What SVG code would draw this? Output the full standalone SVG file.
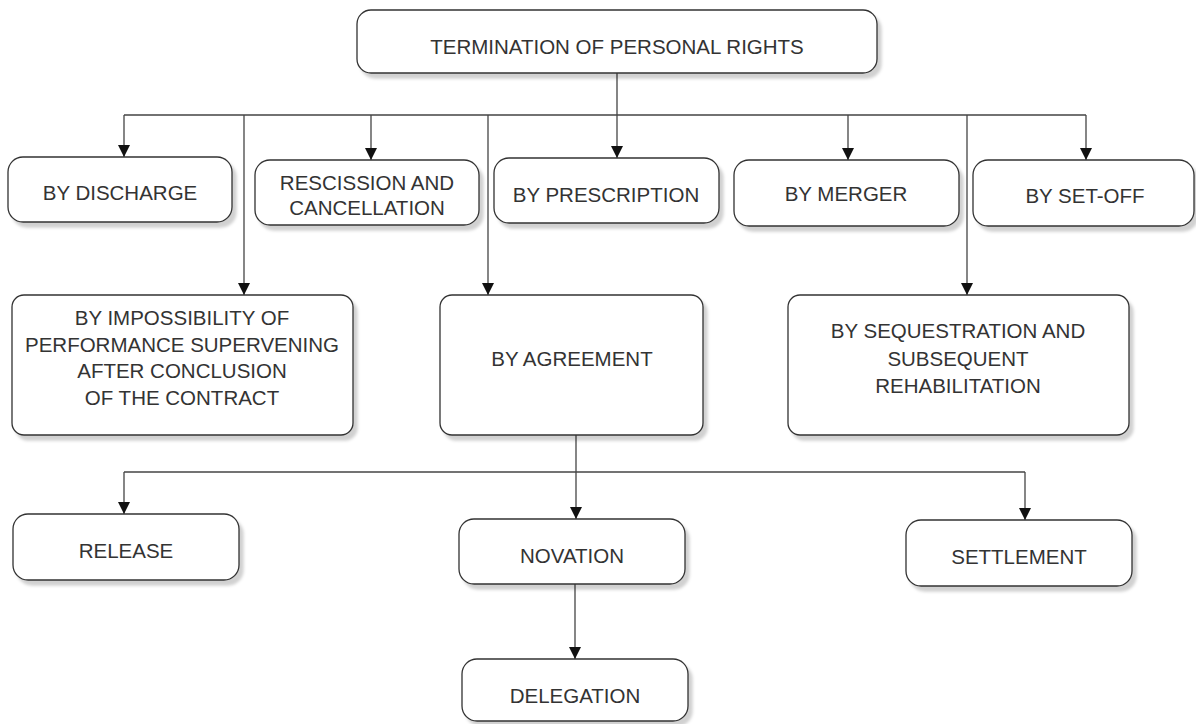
<svg xmlns="http://www.w3.org/2000/svg" width="1196" height="724" viewBox="0 0 1196 724">
<style>
.box{fill:#fff;stroke:#333;stroke-width:1.3;filter:url(#sh)}
.t{font-family:"Liberation Sans",Arial,sans-serif;font-size:20.5px;fill:#333;text-anchor:middle}
.c{fill:none;stroke:#444;stroke-width:1.3}
.a{marker-end:url(#ar)}
</style>
<defs>
<filter id="sh" x="-10%" y="-10%" width="125%" height="130%">
<feDropShadow dx="4" dy="5" stdDeviation="1.5" flood-color="#000" flood-opacity="0.18"/>
</filter>
<marker id="ar" viewBox="0 0 12 12" refX="12" refY="6" markerWidth="12" markerHeight="12" markerUnits="userSpaceOnUse" orient="auto">
<path d="M0,0 L12,6 L0,12 Z" fill="#111"/>
</marker>
</defs>
<g id="connectors">
<path class="c" d="M617,73 V115 M124,115 H1086"/>
<path class="c a" d="M124,115 V157"/>
<path class="c a" d="M244,115 V295"/>
<path class="c a" d="M371,115 V160"/>
<path class="c a" d="M488,115 V295"/>
<path class="c a" d="M617,115 V158"/>
<path class="c a" d="M848,115 V160"/>
<path class="c a" d="M967,115 V295"/>
<path class="c a" d="M1086,115 V160"/>
<path class="c" d="M124,472 H1025"/>
<path class="c a" d="M576,435 V519"/>
<path class="c a" d="M124,472 V514"/>
<path class="c a" d="M1025,472 V520"/>
<path class="c a" d="M575,584 V659"/>
</g>
<g id="n-root"><rect class="box" x="357" y="10" width="520" height="63" rx="14"/><text class="t" x="617" y="54">TERMINATION OF PERSONAL RIGHTS</text></g>
<g id="n-discharge"><rect class="box" x="8" y="157" width="224" height="65" rx="15"/><text class="t" x="120" y="200">BY DISCHARGE</text></g>
<g id="n-rescission"><rect class="box" x="255" y="160" width="224" height="65" rx="15"/><text class="t" x="367" y="190">RESCISSION AND</text><text class="t" x="367" y="215">CANCELLATION</text></g>
<g id="n-prescription"><rect class="box" x="494" y="158" width="225" height="65" rx="15"/><text class="t" x="606" y="202">BY PRESCRIPTION</text></g>
<g id="n-merger"><rect class="box" x="734" y="160" width="225" height="66" rx="15"/><text class="t" x="846" y="201">BY MERGER</text></g>
<g id="n-setoff"><rect class="box" x="973" y="160" width="221" height="66" rx="15"/><text class="t" x="1085" y="203">BY SET-OFF</text></g>
<g id="n-impossibility"><rect class="box" x="12" y="295" width="341" height="140" rx="12"/><text class="t" x="182" y="325">BY IMPOSSIBILITY OF</text><text class="t" x="182" y="352">PERFORMANCE SUPERVENING</text><text class="t" x="182" y="378">AFTER CONCLUSION</text><text class="t" x="182" y="405">OF THE CONTRACT</text></g>
<g id="n-agreement"><rect class="box" x="440" y="295" width="263" height="140" rx="12"/><text class="t" x="572" y="366">BY AGREEMENT</text></g>
<g id="n-sequestration"><rect class="box" x="788" y="295" width="341" height="140" rx="12"/><text class="t" x="958" y="338">BY SEQUESTRATION AND</text><text class="t" x="958" y="366">SUBSEQUENT</text><text class="t" x="958" y="393">REHABILITATION</text></g>
<g id="n-release"><rect class="box" x="13" y="514" width="226" height="66" rx="15"/><text class="t" x="126" y="558">RELEASE</text></g>
<g id="n-novation"><rect class="box" x="459" y="519" width="226" height="65" rx="15"/><text class="t" x="572" y="563">NOVATION</text></g>
<g id="n-settlement"><rect class="box" x="906" y="520" width="226" height="66" rx="15"/><text class="t" x="1019" y="564">SETTLEMENT</text></g>
<g id="n-delegation"><rect class="box" x="462" y="659" width="226" height="62" rx="15"/><text class="t" x="575" y="703">DELEGATION</text></g>
</svg>
